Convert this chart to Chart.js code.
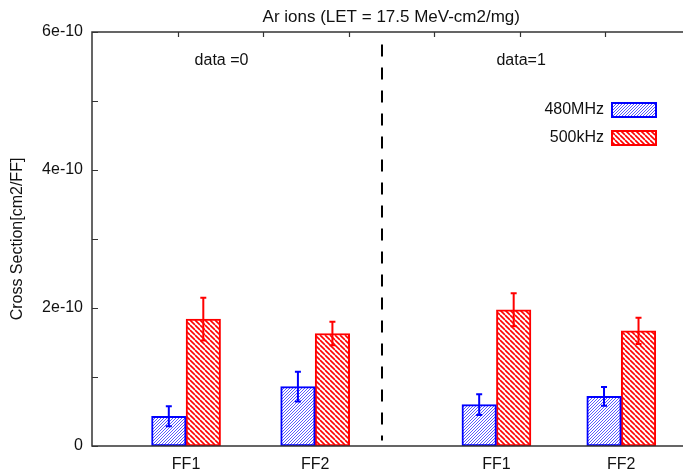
<!DOCTYPE html>
<html>
<head>
<meta charset="utf-8">
<script src="https://cdn.jsdelivr.net/npm/chart.js@4.4.1/dist/chart.umd.min.js"></script>
<style>
  body { margin: 0; background: #fff; }
  canvas { display: block; }
</style>
</head>
<body>
<canvas id="chart" width="683" height="473"></canvas>
<script>
// dados
const categories = ['FF1', 'FF2', 'FF1', 'FF2'];
const xPositions = [1.1, 2.61, 4.73, 6.19];
const mhz480 = [0.43e-10, 0.86e-10, 0.60e-10, 0.72e-10];
const mhz480Err = [0.145e-10, 0.215e-10, 0.15e-10, 0.135e-10];
const khz500 = [1.84e-10, 1.63e-10, 1.975e-10, 1.67e-10];
const khz500Err = [0.31e-10, 0.17e-10, 0.24e-10, 0.19e-10];
const yTickLabels = ['0', '2e-10', '4e-10', '6e-10'];
const groupLabels = ['data =0', 'data=1'];
const groupLabelX = [1.2, 4.73];
const groupLabelY = 5.58e-10;
const dividerX = 3.39;
const dividerY = [0.08e-10, 5.82e-10];
const seriesNames = ['480MHz', '500kHz'];
const titleText = 'Ar ions (LET = 17.5 MeV-cm2/mg)';

const FONT = "'Liberation Sans', Arial, sans-serif";

// padrão tracejado para as barras
function hatch(color, size, width, forward) {
    const c = document.createElement('canvas');
    c.width = size; c.height = size;
    const g = c.getContext('2d');
    g.fillStyle = '#fff';
    g.fillRect(0, 0, size, size);
    g.strokeStyle = color;
    g.lineWidth = width;
    g.beginPath();
    for (let k = -1; k <= 1; k++) {
        if (forward) {
            g.moveTo(k * size, size); g.lineTo(k * size + size, 0);
        } else {
            g.moveTo(k * size, 0); g.lineTo(k * size + size, size);
        }
    }
    g.stroke();
    return g.createPattern(c, 'repeat');
}
const bluePattern = hatch('#3030ff', 3, 0.8, true);
const redPattern = hatch('#ff0000', 5, 1.6, false);

const errors = [mhz480Err, khz500Err];
const values = [mhz480, khz500];

const extras = {
    id: 'extras',
    afterDatasetsDraw(chart) {
        const ctx = chart.ctx;
        const xs = chart.scales.x, ys = chart.scales.y;
        const a = chart.chartArea;

        // barras de erro
        chart.data.datasets.forEach((ds, d) => {
            const meta = chart.getDatasetMeta(d);
            ctx.save();
            ctx.strokeStyle = ds.borderColor;
            ctx.lineWidth = 2;
            meta.data.forEach((bar, i) => {
                const hi = ys.getPixelForValue(values[d][i] + errors[d][i]);
                const lo = ys.getPixelForValue(values[d][i] - errors[d][i]);
                ctx.beginPath();
                ctx.moveTo(bar.x, hi); ctx.lineTo(bar.x, lo);
                ctx.moveTo(bar.x - 3, hi); ctx.lineTo(bar.x + 3, hi);
                ctx.moveTo(bar.x - 3, lo); ctx.lineTo(bar.x + 3, lo);
                ctx.stroke();
            });
            ctx.restore();
        });

        // eixos
        ctx.save();
        ctx.strokeStyle = '#333';
        ctx.lineWidth = 1.5;
        ctx.beginPath();
        ctx.moveTo(a.right, a.top); ctx.lineTo(a.left, a.top);
        ctx.lineTo(a.left, a.bottom); ctx.lineTo(a.right, a.bottom);
        ctx.stroke();
        ctx.lineWidth = 1.2;
        ctx.beginPath();
        ys.ticks.forEach(t => {
            const y = Math.round(ys.getPixelForValue(t.value)) + 0.5;
            ctx.moveTo(a.left, y); ctx.lineTo(a.left + 6, y);
        });
        for (let v = 1; v < xs.max; v++) {
            const x = Math.round(xs.getPixelForValue(v)) + 0.5;
            ctx.moveTo(x, a.top); ctx.lineTo(x, a.top + 5);
        }
        ctx.stroke();

        // linha divisória
        ctx.strokeStyle = '#000';
        ctx.lineWidth = 2;
        ctx.setLineDash([12, 11]);
        ctx.beginPath();
        const dx = Math.round(xs.getPixelForValue(dividerX));
        ctx.moveTo(dx, ys.getPixelForValue(dividerY[1]));
        ctx.lineTo(dx, ys.getPixelForValue(dividerY[0]));
        ctx.stroke();
        ctx.setLineDash([]);

        // textos
        ctx.fillStyle = '#111';
        ctx.font = '17px ' + FONT;
        ctx.textAlign = 'center';
        ctx.textBaseline = 'middle';
        ctx.fillText(titleText, (a.left + xs.getPixelForValue(7)) / 2, 17);
        ctx.font = '16px ' + FONT;
        ctx.textAlign = 'left';
        groupLabels.forEach((t, i) => {
            ctx.fillText(t, xs.getPixelForValue(groupLabelX[i]), ys.getPixelForValue(groupLabelY));
        });

        // legenda
        const patterns = [bluePattern, redPattern];
        chart.data.datasets.forEach((ds, d) => {
            const y = 110 + d * 28;
            const bx = a.right - 71;
            ctx.textAlign = 'right';
            ctx.fillStyle = '#111';
            ctx.fillText(seriesNames[d], bx - 8, y);
            ctx.fillStyle = patterns[d];
            ctx.fillRect(bx, y - 7, 44, 14);
            ctx.strokeStyle = ds.borderColor;
            ctx.lineWidth = 2;
            ctx.strokeRect(bx, y - 7, 44, 14);
        });
        ctx.restore();
    }
};

new Chart(document.getElementById('chart'), {
    type: 'bar',
    data: {
        datasets: [{
            label: seriesNames[0],
            data: xPositions.map((x, i) => ({ x: x, y: mhz480[i] })),
            backgroundColor: bluePattern,
            borderColor: '#0000ff',
            borderWidth: 2,
            borderSkipped: false,
            barThickness: 34.5
        }, {
            label: seriesNames[1],
            data: xPositions.map((x, i) => ({ x: x, y: khz500[i] })),
            backgroundColor: redPattern,
            borderColor: '#ff0000',
            borderWidth: 2,
            borderSkipped: false,
            barThickness: 34.5
        }]
    },
    options: {
        responsive: false,
        animation: false,
        devicePixelRatio: 1,
        layout: { padding: { top: 32, left: 0, right: 0, bottom: 0 } },
        plugins: { legend: { display: false }, tooltip: { enabled: false } },
        scales: {
            x: {
                type: 'linear',
                min: 0,
                max: 6.912,
                offset: false,
                grid: { display: false, drawTicks: false },
                border: { display: false },
                afterBuildTicks: s => { s.ticks = xPositions.map(v => ({ value: v })); },
                afterFit: s => { s.height = 27; },
                ticks: {
                    autoSkip: false,
                    maxRotation: 0,
                    padding: 9,
                    color: '#111',
                    font: { family: FONT, size: 16 },
                    callback: (v, i) => categories[i]
                }
            },
            y: {
                min: 0,
                max: 6e-10,
                grid: { display: false, drawTicks: false },
                border: { display: false },
                afterFit: s => { s.width = 92; },
                title: {
                    display: true,
                    text: 'Cross Section[cm2/FF]',
                    color: '#111',
                    padding: { top: 8, bottom: 0 },
                    font: { family: FONT, size: 16 }
                },
                ticks: {
                    stepSize: 1e-10,
                    padding: 9,
                    color: '#111',
                    font: { family: FONT, size: 16 },
                    callback: (v, i) => (i % 2 === 0 ? yTickLabels[i / 2] : '')
                }
            }
        }
    },
    plugins: [extras]
});
</script>
</body>
</html>
